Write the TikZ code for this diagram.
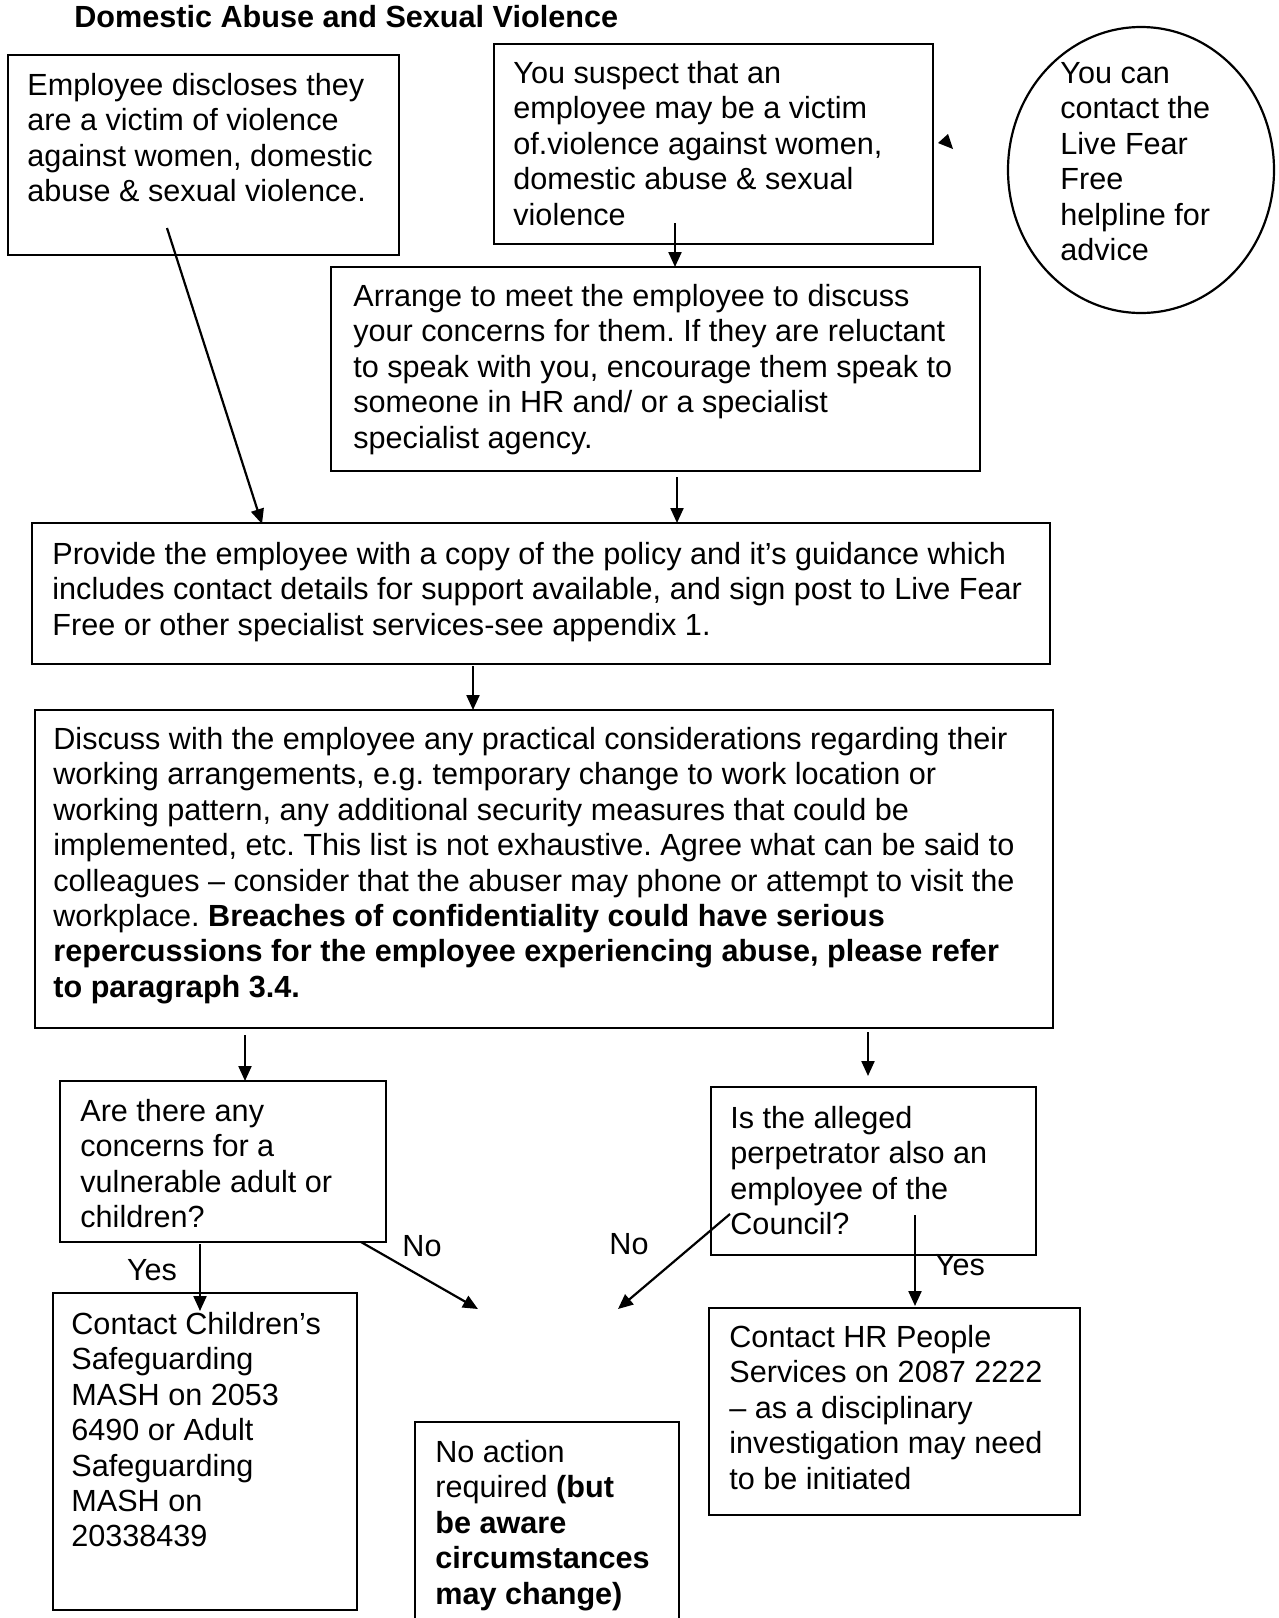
\documentclass[tikz,border=0pt]{standalone}
\usepackage{fontspec}
\setmainfont{Liberation Sans}
\usetikzlibrary{arrows.meta,fit,shapes.geometric}
\frenchspacing
\newcommand{\mainfs}{\fontsize{15.3}{17.7}\selectfont}
\tikzset{
  box/.style={draw, line width=1.1pt, inner sep=0pt, fit={#1}},
  txt/.style={anchor=north west, inner sep=0pt, align=left, font=\mainfs},
  lbl/.style={inner sep=0pt, font=\mainfs},
  arr/.style={line width=1.1pt, -{Triangle[length=7.5pt,width=6.5pt]}}
}
\begin{document}
\begin{tikzpicture}[x=0.5pt,y=-0.5pt]
\useasboundingbox (0,0) rectangle (1279,1618);
% title
\node[txt, font=\mainfs\bfseries] (title) at (74,5) {Domestic Abuse and Sexual Violence};
% boxes
\node[box={(8,55) (399,255)}] (b1) {};
\node[box={(494,44) (933,244)}] (b2) {};
\node[draw, line width=1.1pt, ellipse, inner sep=0pt, minimum width=133pt, minimum height=143pt] (ell) at (1141,170) {};
\node[box={(331,267) (980,471)}] (b3) {};
\node[box={(32,523) (1050,664)}] (b4) {};
\node[box={(35,710) (1053,1028)}] (b5) {};
\node[box={(60,1081) (386,1242)}] (b6) {};
\node[box={(711,1087) (1036,1255)}] (b7) {};
\node[box={(53,1293) (357,1610)}] (b8) {};
\node[box={(415,1422) (679,1650)}] (b9) {};
\node[box={(709,1308) (1080,1515)}] (b10) {};
% texts
\node[txt] (t1) at (27,73) {Employee discloses they\\are a victim of violence\\against women, domestic\\abuse \& sexual violence.};
\node[txt] (t2) at (513,61) {You suspect that an\\employee may be a victim\\of.violence against women,\\domestic abuse \& sexual\\violence};
\node[txt] (te) at (1060,62) {You can\\contact the\\Live Fear\\Free\\helpline for\\advice};
\node[txt] (t3) at (353,284) {Arrange to meet the employee to discuss\\your concerns for them. If they are reluctant\\to speak with you, encourage them speak to\\someone in HR and/ or a specialist\\specialist agency.};
\node[txt] (t4) at (52,542) {Provide the employee with a copy of the policy and it’s guidance which\\includes contact details for support available, and sign post to Live Fear\\Free or other specialist services-see appendix 1.};
\node[txt] (t5) at (53,727) {Discuss with the employee any practical considerations regarding their\\working arrangements, e.g. temporary change to work location or\\working pattern, any additional security measures that could be\\implemented, etc. This list is not exhaustive. Agree what can be said to\\colleagues – consider that the abuser may phone or attempt to visit the\\workplace. \textbf{Breaches of confidentiality could have serious}\\\textbf{repercussions for the employee experiencing abuse, please refer}\\\textbf{to paragraph 3.4.}};
\node[txt] (t6) at (80,1099) {Are there any\\concerns for a\\vulnerable adult or\\children?};
\node[txt] (t7) at (730,1106) {Is the alleged\\perpetrator also an\\employee of the\\Council?};
\node[txt] (t8) at (71,1312) {Contact Children’s\\Safeguarding\\MASH on 2053\\6490 or Adult\\Safeguarding\\MASH on\\20338439};
\node[txt] (t9) at (435,1440) {No action\\required \textbf{(but}\\\textbf{be aware}\\\textbf{circumstances}\\\textbf{may change)}};
\node[txt] (t10) at (729,1325) {Contact HR People\\Services on 2087 2222\\– as a disciplinary\\investigation may need\\to be initiated};
% labels
\node[lbl] (yes1) at (152,1270) {Yes};
\node[lbl] (no1) at (422,1246) {No};
\node[lbl] (no2) at (629,1244) {No};
\node[lbl] (yes2) at (960,1265) {Yes};
% connector end points
\coordinate (a1s) at (167,228); \coordinate (a1e) at (262,524);
\coordinate (a2s) at (675,223); \coordinate (a2e) at (675,267);
\coordinate (a3s) at (677,477); \coordinate (a3e) at (677,523);
\coordinate (a4s) at (473,666); \coordinate (a4e) at (473,710);
\coordinate (a5s) at (245,1035); \coordinate (a5e) at (245,1081);
\coordinate (a6s) at (868,1032); \coordinate (a6e) at (868,1076);
\coordinate (a7s) at (200,1244); \coordinate (a7e) at (200,1311);
\coordinate (a8s) at (361,1242); \coordinate (a8e) at (478,1309);
\coordinate (a9s) at (730,1214); \coordinate (a9e) at (618,1309);
\coordinate (a10s) at (915,1215); \coordinate (a10e) at (915,1306);
\draw[arr] (a1s) -- (a1e);
\draw[arr] (a2s) -- (a2e);
\draw[arr] (a3s) -- (a3e);
\draw[arr] (a4s) -- (a4e);
\draw[arr] (a5s) -- (a5e);
\draw[arr] (a6s) -- (a6e);
\draw[arr] (a7s) -- (a7e);
\draw[arr] (a8s) -- (a8e);
\draw[arr] (a9s) -- (a9e);
\draw[arr] (a10s) -- (a10e);
% small arrowhead beside box 2
\fill (938,143) -- (948,134) -- (953,149) -- cycle;
\end{tikzpicture}
\end{document}
